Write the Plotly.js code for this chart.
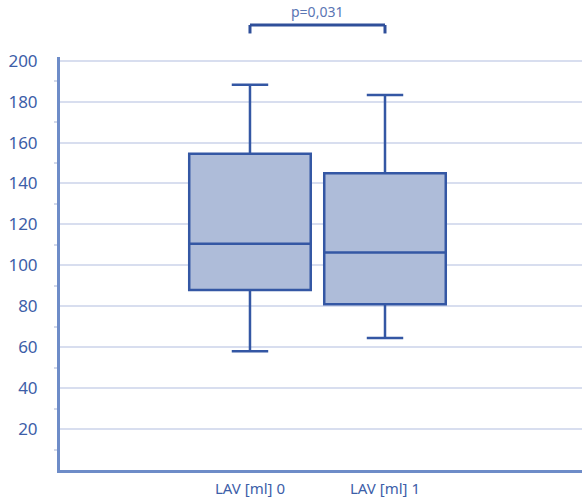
<!DOCTYPE html>
<html>
<head>
<meta charset="utf-8">
<script src="https://cdn.plot.ly/plotly-3.0.1.min.js"></script>
<style>html,body{margin:0;padding:0;background:#fff;}#chart{width:582px;height:499px;}</style>
</head>
<body>
<div id="chart"></div>
<script>
const categories = ["LAV [ml] 0", "LAV [ml] 1"];
const positions = [0, 1];
const lowerWhisker = [58, 64.5];
const q1Values = [88, 81];
const medians = [110.5, 106.3];
const q3Values = [154.5, 145];
const upperWhisker = [188.3, 183.2];
const pLabel = "p=0,031";
const yTicks = [20, 40, 60, 80, 100, 120, 140, 160, 180, 200];

const tickColor = "#3d5ea8";
const boxTrace = {
  type: "box",
  x: positions,
  q1: q1Values,
  median: medians,
  q3: q3Values,
  lowerfence: lowerWhisker,
  upperfence: upperWhisker,
  width: 0.9,
  whiskerwidth: 0.3,
  fillcolor: "#aebcd9",
  line: {color: "#3457a4", width: 2.5},
  boxpoints: false,
  hoverinfo: "skip",
  showlegend: false
};

const layout = {
  width: 582, height: 499,
  margin: {l: 60, r: 0, t: 57, b: 29},
  paper_bgcolor: "#fff", plot_bgcolor: "#fff",
  showlegend: false,
  xaxis: {
    range: [-1.407, 2.459],
    tickvals: positions,
    ticktext: categories,
    showgrid: false, zeroline: false,
    showline: true, linecolor: "#6e8cc8", linewidth: 3,
    ticks: "", ticklabelstandoff: 3,
    tickfont: {family: "Noto Sans", size: 15, color: tickColor}
  },
  yaxis: {
    range: [0, 201.8],
    tickvals: yTicks,
    showgrid: true, gridcolor: "#d8deef", gridwidth: 2,
    zeroline: false,
    showline: true, linecolor: "#6e8cc8", linewidth: 3,
    ticks: "", ticklabelstandoff: 16,
    tickfont: {family: "Noto Sans", size: 17, color: tickColor},
    minor: {ticks: "outside", ticklen: 3, tickcolor: "#d3d9ea", tickwidth: 2, tick0: 10, dtick: 20, showgrid: false}
  },
  shapes: [
    {type: "line", xref: "x", yref: "paper", x0: 0, x1: 1, y0: 1.0775, y1: 1.0775,
     line: {color: "#2f4f9a", width: 3}},
    {type: "line", xref: "x", yref: "paper", x0: 0, x1: 0, y0: 1.0775, y1: 1.057,
     line: {color: "#2f4f9a", width: 3}},
    {type: "line", xref: "x", yref: "paper", x0: 1, x1: 1, y0: 1.0775, y1: 1.057,
     line: {color: "#2f4f9a", width: 3}}
  ],
  annotations: [
    {xref: "paper", yref: "paper", x: (317 - 60) / 522, y: 1.082, yanchor: "bottom",
     text: pLabel, showarrow: false,
     font: {family: "Noto Sans", size: 14, color: "#5a76b4"}}
  ]
};
Plotly.newPlot("chart", [boxTrace], layout, {displayModeBar: false, staticPlot: true});
</script>
</body>
</html>
